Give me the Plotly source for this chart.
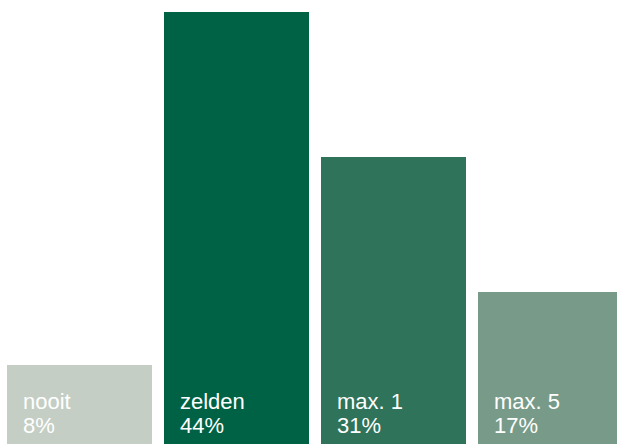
import plotly.graph_objects as go

categories = ["nooit", "zelden", "max. 1", "max. 5"]
bar_heights = [8.0, 44.0, 29.2, 15.5]
value_labels = ["8%", "44%", "31%", "17%"]
colors = ["#C4CEC5", "#006244", "#2E735A", "#789B89"]

x_pos = list(range(len(categories)))
bar_width = 0.924
label_font = dict(family="Helvetica, Arial, Liberation Sans, sans-serif", size=22, color="white")

fig = go.Figure()
fig.add_trace(go.Bar(
    x=x_pos, y=bar_heights, width=bar_width,
    marker=dict(color=colors, line=dict(width=0)),
    hoverinfo="skip",
))

for i, (cat, lab) in enumerate(zip(categories, value_labels)):
    for txt, ys in ((lab, 4), (cat, 28)):
        fig.add_annotation(
            x=i - bar_width / 2, y=0, xref="x", yref="y",
            text=txt, showarrow=False,
            xanchor="left", yanchor="bottom", align="left",
            xshift=14, yshift=ys, font=label_font,
        )

fig.update_layout(
    width=617, height=444,
    margin=dict(l=0, r=0, t=0, b=0),
    paper_bgcolor="white", plot_bgcolor="white",
    showlegend=False, bargap=0,
    xaxis=dict(range=[-0.506, 3.424], visible=False, fixedrange=True),
    yaxis=dict(range=[0, 44 * 444 / 432], visible=False, fixedrange=True),
)

fig.write_html("out.html", config={"displayModeBar": False})
